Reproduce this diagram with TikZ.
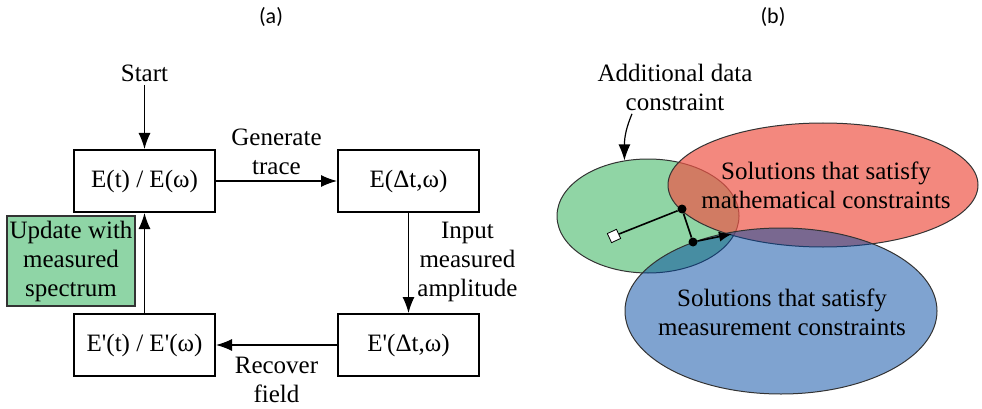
\documentclass[tikz,border=0pt]{standalone}
\usepackage{fontspec}
\setmainfont{Liberation Serif}
\newfontfamily\panelfont{Carlito}
\usetikzlibrary{shapes.geometric,positioning,arrows.meta}

\definecolor{updategreen}{RGB}{143,213,166}
\definecolor{setgreen}{RGB}{144,213,165}
\definecolor{mathred}{RGB}{238,86,71}
\definecolor{measblue}{RGB}{0,71,161}

\begin{document}
\begin{tikzpicture}[x=1pt,y=-1pt,
  font=\fontsize{25}{29}\selectfont,
  block/.style={draw,line width=2pt,minimum width=141pt,minimum height=62pt,align=center},
  flow/.style={-{Latex[length=16pt,width=12pt]},line width=1.2pt},
  steplabel/.style={align=center},
  solset/.style={draw=black!80,line width=1pt,ellipse,inner sep=0pt},
  iterdot/.style={circle,fill,minimum size=9pt,inner sep=0pt}
]
\useasboundingbox (0,0) rectangle (982,409);

% (a) retrieval loop
\node[font=\panelfont\fontsize{22}{26}\selectfont] (panelA) at (271,17) {(a)};

\node[block] (blockE) at (144.5,181) {E(t) / E(ω)};
\node[block, right=121pt of blockE] (blockTrace) {E(Δt,ω)};
\node[block, below=100pt of blockTrace] (blockTraceM) {E\textquotesingle(Δt,ω)};
\node[block, below=100pt of blockE] (blockEM) {E\textquotesingle(t) / E\textquotesingle(ω)};

\node[above=64pt of blockE] (blockStart) {Start};

\node[draw=black!80,
    line width=2pt,
    fill=updategreen,
    minimum width=128pt,
    minimum height=90pt,
    inner sep=1pt,
    align=center
] (blockUpdate) at (71,261) {Update with\\measured\\spectrum};

\draw[flow] (blockStart) -- (blockE);
\draw[flow] (blockE) -- (blockTrace) node[midway,above=2pt,steplabel] {Generate\\trace};
\draw[flow] (blockTrace) -- (blockTraceM) node[midway,right,xshift=5pt,yshift=1pt,steplabel] {Input\\measured\\amplitude};
\draw[flow] (blockTraceM) -- (blockEM) node[midway,below,inner sep=1pt,yshift=-11pt,steplabel] {Recover\\field};
\draw[flow] (blockEM) -- (blockE);

% (b) constraint sets
\node[font=\panelfont\fontsize{22}{26}\selectfont] (panelB) at (773,17) {(b)};

\node[solset, fill=setgreen, minimum width=182pt, minimum height=114pt] (dataSet) at (648,216) {};
\node[solset, fill=mathred, fill opacity=0.7, minimum width=310pt, minimum height=124pt] (mathSet) at (823,185) {};
\node[solset, fill=measblue, fill opacity=0.5, minimum width=312pt, minimum height=166pt] (measSet) at (781,311) {};

\node[steplabel] (mathText) at (826,185) {Solutions that satisfy\\mathematical constraints};
\node[steplabel] (measText) at (782,312) {Solutions that satisfy\\measurement constraints};
\node[steplabel] (dataLabel) at (675,87) {Additional data\\constraint};

\draw[flow] ([xshift=-43pt]dataLabel.south) .. controls +(-5,12) and +(0,-25) .. (dataSet.113);

% projection steps
\node[draw, fill=white, minimum size=10pt, inner sep=0pt, rotate=25, line width=0.8pt] (seed) at (614,236) {};
\node[iterdot] (stepA) at (682,209) {};
\node[iterdot] (stepB) at (693,242) {};
\coordinate (stepEnd) at (732,234);

\draw[line width=1.6pt] (seed) -- (stepA) -- (stepB);
\draw[-{Latex[length=13pt,width=10pt]}, line width=1.6pt] (stepB) -- (stepEnd);

\end{tikzpicture}
\end{document}
